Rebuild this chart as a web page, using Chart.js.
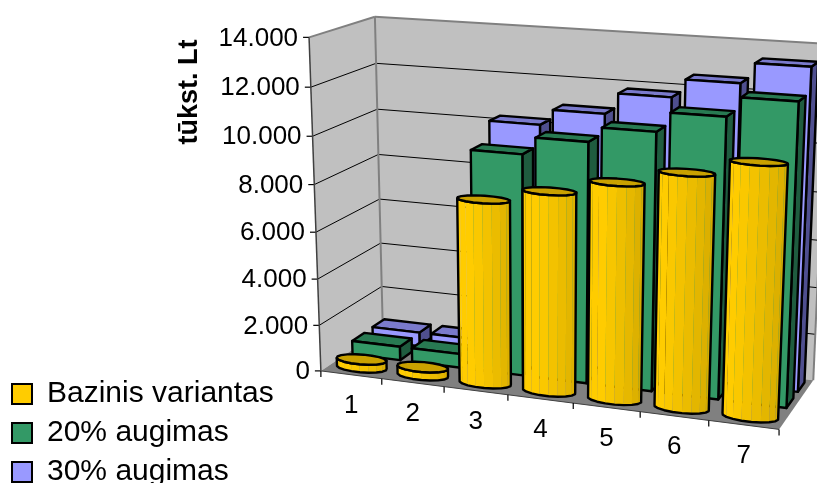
<!DOCTYPE html>
<html><head><meta charset="utf-8">
<style>html,body{margin:0;padding:0;background:#fff}canvas{display:block}</style>
<script src="https://cdn.jsdelivr.net/npm/chart.js@4"></script></head>
<body><canvas id="c" width="817" height="483"></canvas>
<script>
const categories = ['1','2','3','4','5','6','7'];
const baseline = [350,350,7760,8340,8940,9560,10200];
const growth20 = [600,600,9400,10120,10740,11540,12330];
const growth30 = [620,620,10220,10880,11750,12500,13330];
const seriesNames = ['Bazinis variantas','20% augimas','30% augimas'];
const seriesColors = ['#FFCC00','#339966','#9999FF'];
const topColors = ['#C9A100','#287A52','#7A7ACC'];
const sideColors = ['#D4AA00','#1F5C3F','#4F4F8F'];
const axisTitle = 'tūkst. Lt';
const FONT = '"Liberation Sans", Arial, sans-serif';

// Projection of the unit box (u along categories, v up, w into the page) fitted to the frame
const frame = [
 [0,0,0,321,370],[1,0,0,779,430],[0,1,0,309,38],[0,0,1,383,331],[0,1,1,375,16],[1,0,1,813,379],[1,1,1,828,44],
 [1/7,0,0,382,378],[2/7,0,0,443,386],[3/7,0,0,508,395],[4/7,0,0,573,403],[5/7,0,0,641,412],[6/7,0,0,709,421]
];
function fit(pts){
  const n=11,A=Array.from({length:n},()=>new Array(n+1).fill(0));
  const add=(r,t)=>{for(let i=0;i<n;i++){for(let j=0;j<n;j++)A[i][j]+=r[i]*r[j];A[i][n]+=r[i]*t;}};
  for(const [u,v,w,x0,y0] of pts){const x=x0/500,y=y0/500;
    add([u,v,w,1,0,0,0,0,-x*u,-x*v,-x*w],x);add([0,0,0,0,u,v,w,1,-y*u,-y*v,-y*w],y);}
  for(let i=0;i<n;i++){let p=i;for(let k=i+1;k<n;k++)if(Math.abs(A[k][i])>Math.abs(A[p][i]))p=k;
    [A[i],A[p]]=[A[p],A[i]];
    for(let k=0;k<n;k++){if(k===i)continue;const f=A[k][i]/A[i][i];for(let j=i;j<=n;j++)A[k][j]-=f*A[i][j];}}
  return A.map((r,i)=>r[n]/r[i]);
}
const M=fit(frame);
function P(u,v,w){const d=M[8]*u+M[9]*v+M[10]*w+1;
  return [500*(M[0]*u+M[1]*v+M[2]*w+M[3])/d,500*(M[4]*u+M[5]*v+M[6]*w+M[7])/d];}
function poly(ctx,pts,fill,stroke,lw){ctx.beginPath();pts.forEach((p,i)=>i?ctx.lineTo(p[0],p[1]):ctx.moveTo(p[0],p[1]));ctx.closePath();
  if(fill){ctx.fillStyle=fill;ctx.fill();}
  if(stroke){ctx.strokeStyle=stroke;ctx.lineWidth=lw;ctx.lineJoin='round';ctx.stroke();}}
function line(ctx,a,b,c,lw){ctx.beginPath();ctx.moveTo(a[0],a[1]);ctx.lineTo(b[0],b[1]);ctx.strokeStyle=c;ctx.lineWidth=lw;ctx.stroke();}

const rowCentre=[1/6,1/2,5/6], rowDepth=0.2, EDGE=2.4;
function mix(a,b,t){return 'rgb('+a.map((x,i)=>Math.round(x+(b[i]-x)*t)).join(',')+')';}
function box(ctx,u0,u1,v0,v1,w0,w1,s){
  const K='#000';
  poly(ctx,[P(u1,v0,w0),P(u1,v0,w1),P(u1,v1,w1),P(u1,v1,w0)],sideColors[s],K,EDGE);
  poly(ctx,[P(u0,v1,w0),P(u1,v1,w0),P(u1,v1,w1),P(u0,v1,w1)],topColors[s],K,EDGE);
  poly(ctx,[P(u0,v0,w0),P(u1,v0,w0),P(u1,v1,w0),P(u0,v1,w0)],seriesColors[s],K,EDGE);
}
function cylinder(ctx,u0,u1,v0,v1,w0,w1){
  const N=18,uc=(u0+u1)/2,wc=(w0+w1)/2,ru=(u1-u0)/2,rw=(w1-w0)/2;
  const ring=[];for(let i=0;i<N;i++){const t=2*Math.PI*i/N;ring.push([uc+ru*Math.cos(t),wc+rw*Math.sin(t),t]);}
  const vis=[];
  for(let i=0;i<N;i++){const a=ring[i],b=ring[(i+1)%N];
    const q=[P(a[0],v0,a[1]),P(b[0],v0,b[1]),P(b[0],v1,b[1]),P(a[0],v1,a[1])];
    let ar=0;for(let k=0;k<4;k++){const p=q[k],r=q[(k+1)%4];ar+=p[0]*r[1]-r[0]*p[1];}
    if(ar<0)vis.push(i);}
  const start=vis.findIndex(x=>!vis.includes((x-1+N)%N));
  const ord=vis.slice(start).concat(vis.slice(0,start));
  ord.forEach((i,k)=>{const a=ring[i],b=ring[(i+1)%N],t=k/(ord.length-1||1);
    poly(ctx,[P(a[0],v0,a[1]),P(b[0],v0,b[1]),P(b[0],v1,b[1]),P(a[0],v1,a[1])],
      t<0.3?'#FFCC00':mix([255,204,0],[212,170,0],(t-0.3)/0.7));});
  const arc=[ring[ord[0]]].concat(ord.map(i=>ring[(i+1)%N]));
  const sil=arc.map(a=>P(a[0],v0,a[1])).concat(arc.slice().reverse().map(a=>P(a[0],v1,a[1])));
  poly(ctx,sil,null,'#000',EDGE);
  poly(ctx,ring.map(a=>P(a[0],v1,a[1])),topColors[0],'#000',EDGE);
}

const box3d={id:'box3d',
  beforeDatasetsDraw(chart){
    const ctx=chart.ctx,ys=chart.scales.y,xs=chart.scales.x,a=chart.chartArea;
    ctx.save();
    poly(ctx,[P(0,0,0),P(0,1,0),P(0,1,1),P(0,0,1)],'#C0C0C0');
    poly(ctx,[P(0,0,1),P(0,1,1),P(1,1,1),P(1,0,1)],'#C0C0C0');
    poly(ctx,[P(0,0,0),P(1,0,0),P(1,0,1),P(0,0,1)],'#808080');
    ctx.textAlign='right';ctx.textBaseline='middle';ctx.font='26px '+FONT;
    ys.ticks.forEach(t=>{const v=(a.bottom-ys.getPixelForValue(t.value))/(a.bottom-a.top);
      if(t.value>0&&t.value<ys.max){line(ctx,P(0,v,0),P(0,v,1),'#000',1);line(ctx,P(0,v,1),P(1,v,1),'#000',1);}
      const p=P(0,v,0);line(ctx,[p[0]-6,p[1]],p,'#000',1.2);
      ctx.fillStyle='#000';ctx.fillText(t.label,p[0]-11,p[1]+1);});
    line(ctx,P(0,1,0),P(0,1,1),'#808080',2);line(ctx,P(0,1,1),P(1,1,1),'#808080',2);
    line(ctx,P(0,0,1),P(0,1,1),'#808080',2);line(ctx,P(1,0,1),P(1,1,1),'#808080',2);
    line(ctx,P(0,0,0),P(0,1,0),'#404040',1.5);
    line(ctx,P(0,0,0),P(1,0,0),'#404040',1);
    ctx.textAlign='center';
    for(let i=0;i<=categories.length;i++){const p=P(i/categories.length,0,0);line(ctx,p,[p[0],p[1]+6],'#000',1.2);}
    categories.forEach((c,i)=>{const u=(xs.getPixelForValue(i)-a.left)/(a.right-a.left),p=P(u,0,0);
      ctx.fillStyle='#000';ctx.fillText(c,p[0],p[1]+31);});
    ctx.translate(190,92);ctx.rotate(-Math.PI/2);ctx.font='bold 27px '+FONT;ctx.fillText(axisTitle,0,0);
    ctx.restore();
  },
  beforeDatasetDraw(chart,args){
    const ctx=chart.ctx,a=chart.chartArea,s=args.index;
    const W=a.right-a.left,H=a.bottom-a.top;
    const w0=rowCentre[s]-rowDepth/2,w1=rowCentre[s]+rowDepth/2;
    ctx.save();
    args.meta.data.forEach(el=>{
      const u0=(el.x-el.width/2-a.left)/W,u1=(el.x+el.width/2-a.left)/W;
      const v0=(a.bottom-el.base)/H,v1=(a.bottom-el.y)/H;
      if(s===0)cylinder(ctx,u0,u1,v0,v1,w0,w1);else box(ctx,u0,u1,v0,v1,w0,w1,s);
    });
    ctx.restore();
    return false;
  }
};
const seriesData=[baseline,growth20,growth30];
new Chart(document.getElementById('c'),{
  type:'bar',
  data:{labels:categories,datasets:seriesData.map((d,i)=>({label:seriesNames[i],data:d,
    backgroundColor:seriesColors[i],borderColor:'#000',borderWidth:2,
    barPercentage:0.8,categoryPercentage:1,grouped:false}))},
  options:{responsive:false,animation:false,devicePixelRatio:1,
    layout:{padding:{left:3,bottom:-13}},
    scales:{
      x:{display:false,grid:{display:false}},
      y:{display:false,min:0,max:14000,ticks:{stepSize:2000,callback:v=>v.toLocaleString('de-DE')}}
    },
    plugins:{tooltip:{enabled:false},
      legend:{position:'left',align:'end',labels:{boxWidth:20,boxHeight:20,padding:9,color:'#000',
        font:{family:'"Liberation Sans", Arial, sans-serif',size:30,lineHeight:1}}}}
  },
  plugins:[box3d]
});
</script></body></html>
